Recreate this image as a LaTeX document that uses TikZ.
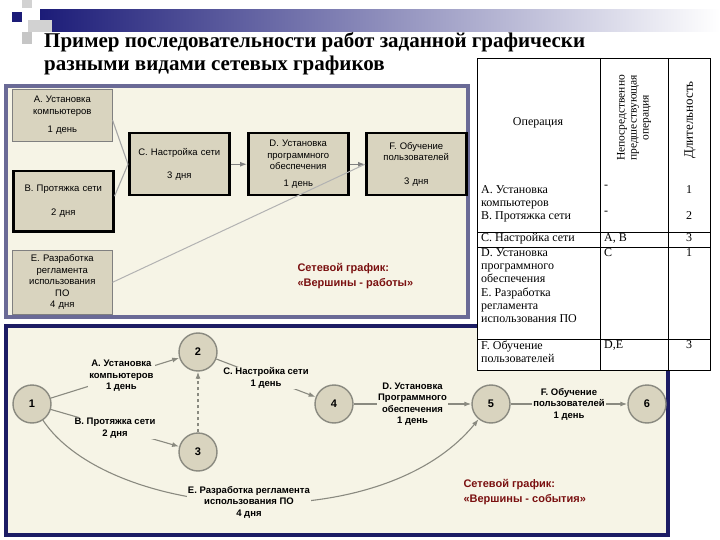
\documentclass[tikz,border=0pt]{standalone}
\usepackage{fontspec}
\setmainfont{Liberation Sans}
\newfontfamily\serif{Liberation Serif}
\usetikzlibrary{arrows.meta,shapes.geometric}
\definecolor{boxfill}{HTML}{D9D4BF}
\definecolor{panelbg}{HTML}{F6F4E6}
\definecolor{upframe}{HTML}{6A6A96}
\definecolor{lowframe}{HTML}{1C1C64}
\definecolor{navy}{HTML}{1C1C78}
\definecolor{dred}{HTML}{7A1010}
\definecolor{edgec}{HTML}{8A8A80}
\begin{document}
\begin{tikzpicture}[x=1pt,y=-1pt,
  wbox/.style={draw=black,fill=boxfill,minimum width=100pt,text width=96pt,inner sep=2pt,align=center,font=\fontsize{9.5}{11.5}\selectfont},
  thick box/.style={wbox,line width=2.5pt},
  thin box/.style={wbox,line width=0.6pt,draw=gray},
  ev/.style={circle,draw=edgec,line width=1.4pt,fill=boxfill,minimum size=38pt,font=\bfseries\fontsize{11}{12}\selectfont},
  lab/.style={fill=panelbg,inner sep=1pt,align=center,font=\bfseries\fontsize{9.5}{11.5}\selectfont},
  edge/.style={draw=edgec,line width=1.1pt},
  arr/.style={edge,-{Latex[length=7pt,width=5pt]}},
  note/.style={text=dred,font=\bfseries\fontsize{11}{14.5}\selectfont,align=left,anchor=north west},
  tt/.style={font=\serif\fontsize{12}{13.2}\selectfont,anchor=north west,inner sep=0pt,align=left}]
\useasboundingbox (0,0) rectangle (720,540);
\fill[white] (0,0) rectangle (720,540);
% decoration
\shade[left color=navy,right color=white] (40,10) rectangle (720,32);
\fill[gray!35] (22,0) rectangle (32,8);
\fill[gray!35] (28,20) rectangle (52,32);
\fill[gray!45] (22,32) rectangle (32,44);
\fill[navy] (12,12) rectangle (22,22);
% title
\node[anchor=north west,inner sep=0pt,align=left,font=\serif\bfseries\fontsize{21}{23}\selectfont] (title) at (44,32) {Пример последовательности работ заданной графически\\разными видами сетевых графиков};
% upper panel
\draw[upframe,line width=4pt,fill=panelbg] (6,86) rectangle (468,317);
\node[thin box,minimum height=52pt,anchor=north west] (A) at (12,89) {A. Установка\\компьютеров\\[7pt]1 день};
\node[thick box,minimum height=60pt,anchor=north west] (B) at (12,170) {B. Протяжка сети\\[12pt]2 дня};
\node[thin box,minimum height=64pt,anchor=north west] (E) at (12,250) {E. Разработка\\регламента\\использования\\ПО\\4 дня};
\node[thick box,minimum height=62pt,anchor=north west] (C) at (128,132) {C. Настройка сети\\[12pt]3 дня};
\node[thick box,minimum height=62pt,anchor=north west] (D) at (247,132) {D. Установка\\программного\\обеспечения\\[5pt]1 день};
\node[thick box,minimum height=62pt,anchor=north west] (F) at (365,132) {F. Обучение\\пользователей\\[12pt]3 дня};
\draw[edge,draw=gray!70] (A.east) ++(0,5) -- (C.west);
\draw[edge,draw=gray!70] (B.east) ++(0,-5) -- (C.west);
\draw[arr,draw=gray] (C) -- (D);
\draw[arr,draw=gray] (D) -- (F);
\draw[edge,draw=gray!60,line width=1pt] (E.east) -- (F.west);
\node[note] (n1) at (294,260) {Сетевой график:\\«Вершины - работы»};
% lower panel
\draw[lowframe,line width=4pt,fill=panelbg] (6,326) rectangle (668,535);
\node[ev] (e1) at (32,404) {1};
\node[ev] (e2) at (198,352) {2};
\node[ev] (e3) at (198,452) {3};
\node[ev] (e4) at (334,404) {4};
\node[ev] (e5) at (491,404) {5};
\node[ev] (e6) at (647,404) {6};
\draw[arr] (e1) -- node[lab,pos=0.55] {A. Установка\\компьютеров\\1 день} (e2);
\draw[arr] (e1) -- node[lab,pos=0.5] {B. Протяжка сети\\2 дня} (e3);
\draw[arr,dashed] (e3) -- (e2);
\draw[arr] (e2) -- node[lab,pos=0.5] {C. Настройка сети\\1 день} (e4);
\draw[arr] (e4) -- node[lab] {D. Установка\\Программного\\обеспечения\\1 день} (e5);
\draw[arr] (e5) -- node[lab] {F. Обучение\\пользователей\\1 день} (e6);
\draw[arr] (e1) .. controls (110,520) and (380,540) .. node[lab,pos=0.5] {E. Разработка регламента\\использования ПО\\4 дня} (e5);
\node[note] (n2) at (460,476) {Сетевой график:\\«Вершины - события»};
% table
\draw[black,fill=white,line width=0.8pt] (477,58) rectangle (710,370);
\draw[line width=0.6pt] (600,58) -- (600,370) (668,58) -- (668,370);
\draw[line width=0.6pt] (477,232) -- (710,232) (477,247) -- (710,247) (477,339) -- (710,339);
\node[font=\serif\fontsize{12}{13}\selectfont] (h1) at (538,123) {Операция};
\node[rotate=90,align=center,font=\serif\fontsize{11.5}{12}\selectfont] (h2) at (634,118) {Непосредственно\\предшествующая\\операция};
\node[rotate=90,font=\serif\fontsize{13}{14}\selectfont] (h3) at (690,120) {Длительность};
\node[tt] (r1) at (481,185) {A. Установка\\компьютеров\\B. Протяжка сети};
\node[tt] (r2) at (481,233.5) {C. Настройка сети};
\node[tt] (r3) at (481,248.5) {D. Установка\\программного\\обеспечения\\E. Разработка\\регламента\\использования ПО};
\node[tt] (r4) at (481,340.5) {F. Обучение\\пользователей};
\node[tt] (p1) at (604,185) {-};
\node[tt] (p2) at (604,211) {-};
\node[tt] (p3) at (604,233.5) {A, B};
\node[tt] (p4) at (604,248.5) {C};
\node[tt] (p5) at (604,340.5) {D,E};
\node[tt] (d1) at (686,185) {1};
\node[tt] (d2) at (686,211) {2};
\node[tt] (d3) at (686,233.5) {3};
\node[tt] (d4) at (686,248.5) {1};
\node[tt] (d5) at (686,340.5) {3};
\end{tikzpicture}
\end{document}
